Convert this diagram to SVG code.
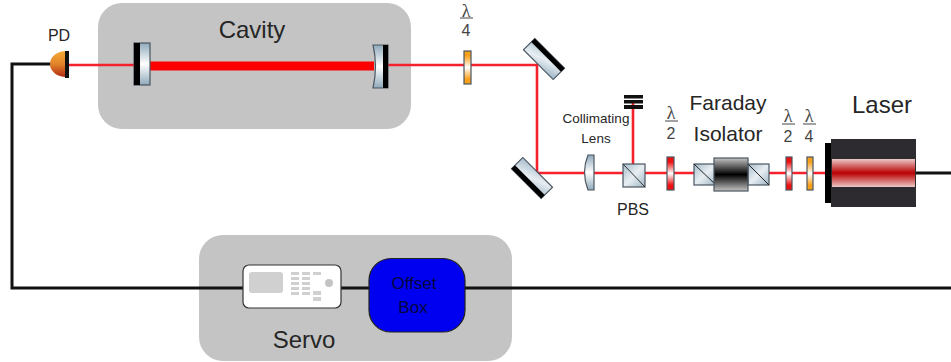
<svg xmlns="http://www.w3.org/2000/svg" width="951" height="362" viewBox="0 0 951 362">
<defs>
<linearGradient id="glass" x1="0" y1="0" x2="0" y2="1"><stop offset="0" stop-color="#8fa9bb"/><stop offset="0.5" stop-color="#ffffff"/><stop offset="1" stop-color="#8fa9bb"/></linearGradient>
<linearGradient id="glassD" x1="0" y1="0" x2="1" y2="1"><stop offset="0" stop-color="#a5bccb"/><stop offset="0.5" stop-color="#e8eef2"/><stop offset="1" stop-color="#9db5c5"/></linearGradient>
<linearGradient id="red" x1="0" y1="0" x2="0" y2="1"><stop offset="0" stop-color="#ee1010"/><stop offset="0.15" stop-color="#ee1010"/><stop offset="0.5" stop-color="#ffffff"/><stop offset="0.85" stop-color="#ee1010"/><stop offset="1" stop-color="#ee1010"/></linearGradient>
<linearGradient id="orange" x1="0" y1="0" x2="0" y2="1"><stop offset="0" stop-color="#f9a01b"/><stop offset="0.15" stop-color="#f9a01b"/><stop offset="0.5" stop-color="#ffffff"/><stop offset="0.85" stop-color="#f9a01b"/><stop offset="1" stop-color="#f9a01b"/></linearGradient>
<linearGradient id="iso" x1="0" y1="0" x2="0" y2="1"><stop offset="0" stop-color="#c4c4c4"/><stop offset="0.5" stop-color="#000000"/><stop offset="1" stop-color="#c4c4c4"/></linearGradient>
<linearGradient id="beam" x1="0" y1="0" x2="0" y2="1"><stop offset="0" stop-color="#ecc8c8"/><stop offset="0.5" stop-color="#b80000"/><stop offset="1" stop-color="#ecc8c8"/></linearGradient>
<linearGradient id="pd" x1="0" y1="0" x2="0" y2="1"><stop offset="0" stop-color="#f5a936"/><stop offset="0.5" stop-color="#e2842a"/><stop offset="1" stop-color="#b02a12"/></linearGradient>
</defs>
<style>
text{font-family:"Liberation Sans",Arial,sans-serif;fill:#262626;text-anchor:middle}
.panel{fill:#c4c4c4}
.wire{fill:none;stroke:#111;stroke-width:3}
.ray{fill:none;stroke:#f5222d;stroke-width:2.6}
.ol{stroke:#4a5560;stroke-width:1.2}
.key{fill:#d0d0d0}
.lam{font-size:18px;font-family:"Liberation Serif",serif;fill:#444}
.num{font-size:16px;fill:#444}
.blue{font-size:17px;fill:#05053f}
</style>
<g id="cavity"><rect class="panel" x="98" y="3" width="313" height="126" rx="24"/><text x="252" y="38" font-size="24">Cavity</text></g>
<g id="servo"><rect class="panel" x="199" y="235" width="313" height="126" rx="24"/><text x="304" y="348" font-size="24">Servo</text></g>
<g id="connectors">
<path class="wire" d="M52 64H12V288H243"/>
<path class="wire" d="M340 288H370"/>
<path class="wire" d="M465 288H951"/>
<path class="wire" d="M915 173H951"/>
<path class="ray" d="M68 65H135"/>
<path d="M149 66H374" fill="none" stroke="#f00" stroke-width="9"/>
<path class="ray" d="M387 65H537V173H826"/>
<path class="ray" d="M633 164V100"/>
</g>
<g id="pd"><text x="59" y="41" font-size="16">PD</text><path d="M66 51A16 13 0 0 0 66 77Z" fill="url(#pd)"/><rect x="65" y="51" width="4" height="27" fill="#111"/></g>
<g id="mirror1"><rect x="134" y="43" width="16" height="42" fill="url(#glass)" class="ol"/><rect x="134" y="43" width="6" height="42" fill="#000"/></g>
<g id="mirror2"><path d="M373 45H388V88H373Q378 66 373 45Z" fill="url(#glass)" class="ol"/><rect x="383" y="45" width="5" height="43" fill="#000"/></g>
<g id="qwp1"><text class="lam" x="466" y="17">λ</text><path d="M460 18H473" stroke="#444"/><text class="num" x="466" y="36">4</text><rect x="464" y="51" width="7" height="33" fill="url(#orange)" class="ol"/></g>
<g id="fold1"><g transform="translate(544,59) rotate(45)"><rect x="-21" y="-8" width="42" height="16" fill="url(#glassD)" class="ol"/><rect x="-21" y="-8" width="42" height="5" fill="#000"/></g></g>
<g id="fold2"><g transform="translate(532,178) rotate(45)"><rect x="-21" y="-8" width="42" height="16" fill="url(#glassD)" class="ol"/><rect x="-21" y="3" width="42" height="5" fill="#000"/></g></g>
<g id="lens"><text x="596" y="123" font-size="13.5">Collimating</text><text x="596" y="143" font-size="13.5">Lens</text><path d="M588 155H594V190H588Q581 172 588 155Z" fill="url(#glass)" class="ol"/></g>
<g id="dump"><rect x="624" y="95" width="19" height="3.500" fill="#111"/><rect x="624" y="100" width="19" height="3.500" fill="#111"/><rect x="624" y="105" width="19" height="4" fill="#111"/></g>
<g id="pbs"><rect x="623" y="164" width="22" height="23" fill="url(#glassD)" class="ol"/><path d="M623 164L645 187" stroke="#333"/><text x="633" y="215" font-size="16">PBS</text></g>
<g id="hwp1"><text class="lam" x="671" y="119">λ</text><path d="M665 121H678" stroke="#444"/><text class="num" x="671" y="139">2</text><rect x="667" y="157" width="7" height="33" fill="url(#red)" class="ol"/></g>
<g id="faraday"><text x="728" y="110" font-size="21">Faraday</text><text x="728" y="141" font-size="21">Isolator</text>
<rect x="694" y="164" width="22" height="21" fill="url(#glassD)" class="ol"/><path d="M694 164L716 185" stroke="#222"/>
<rect x="748" y="164" width="21" height="21" fill="url(#glassD)" class="ol"/><path d="M748 164L769 185" stroke="#222"/>
<rect x="714" y="158" width="34" height="33" fill="url(#iso)" class="ol"/></g>
<g id="hwp2"><text class="lam" x="788" y="122">λ</text><path d="M782 124H795" stroke="#444"/><text class="num" x="788" y="142">2</text><rect x="786" y="157" width="6" height="33" fill="url(#red)" class="ol"/></g>
<g id="qwp2"><text class="lam" x="809" y="122">λ</text><path d="M803 124H816" stroke="#444"/><text class="num" x="809" y="142">4</text><rect x="807" y="157" width="6" height="33" fill="url(#orange)" class="ol"/></g>
<g id="laser"><text x="882" y="113" font-size="24">Laser</text><rect x="825" y="143" width="8" height="60" fill="#000"/><rect x="831" y="139" width="85" height="68" fill="#2d2a30"/><rect x="832" y="159" width="83" height="28" fill="url(#beam)"/></g>
<g id="servo-unit"><rect x="243" y="265" width="98" height="43" rx="6" fill="#fff" stroke="#333" stroke-width="1.2"/><rect x="249" y="272" width="34" height="21" rx="3" class="key"/>
<path d="M291 272h8v3h-8zM302 272h8v3h-8zM313 272h8v3h-8zM291 277h8v3h-8zM302 277h8v3h-8zM291 282h8v3h-8zM302 282h8v3h-8zM291 287h8v3h-8zM302 287h8v3h-8zM291 292h8v3h-8zM302 292h8v3h-8zM313 291h8v4h-8zM313 297h8v4h-8z" class="key"/><circle cx="329" cy="283" r="4" fill="#c4c4c4"/></g>
<g id="offset"><rect x="369" y="258.500" width="96" height="73.500" rx="22" fill="#0000f0" stroke="#222" stroke-width="1.2"/><text class="blue" x="414" y="289">Offset</text><text class="blue" x="413" y="313">Box</text></g>
</svg>
